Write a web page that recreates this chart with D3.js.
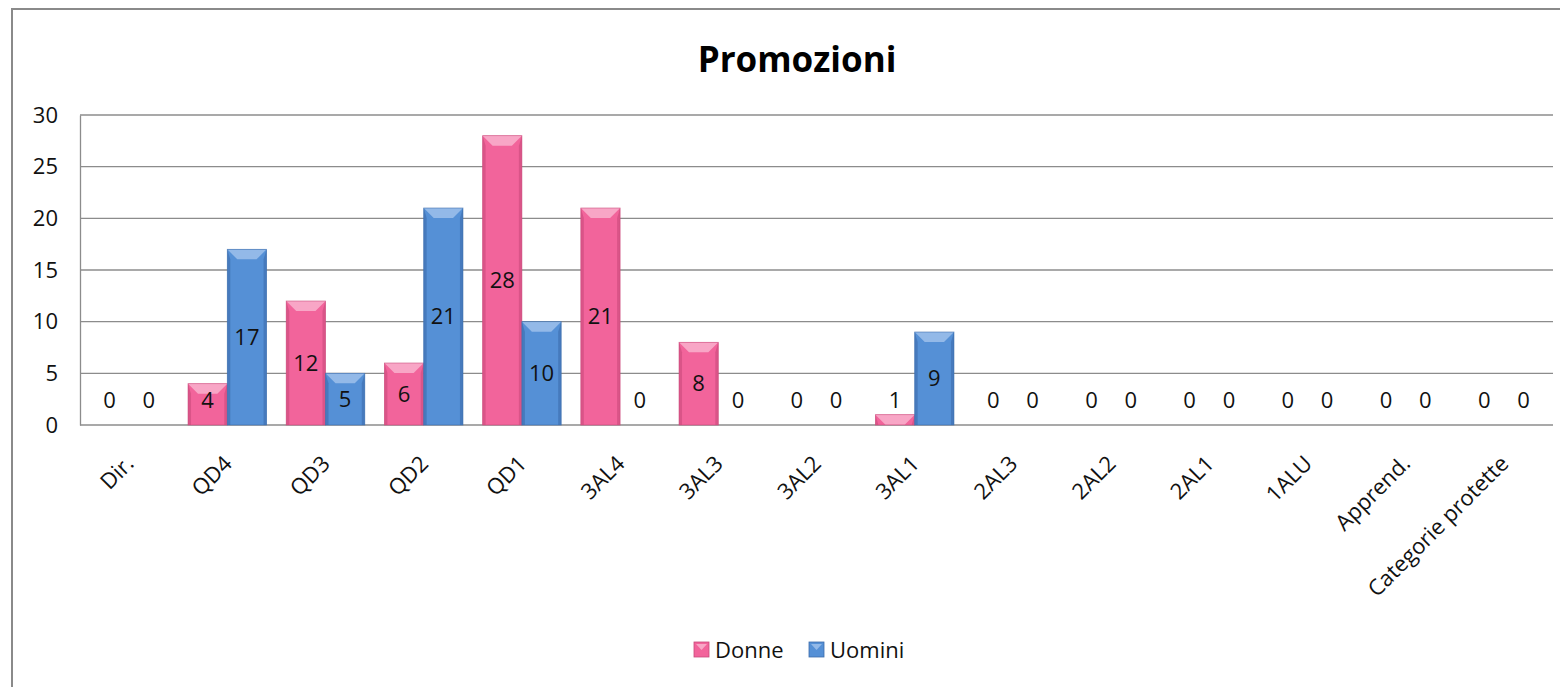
<!DOCTYPE html>
<html>
<head>
<meta charset="utf-8">
<script src="https://cdn.jsdelivr.net/npm/d3@7"></script>
<style>
  body { margin: 0; background: #fff; }
  svg { display: block; font-family: "Open Sans", sans-serif; }
  svg text { font-family: "Open Sans", sans-serif; }
</style>
</head>
<body>
<svg width="1560" height="687"></svg>
<script>
// data
var categories = ["Dir.", "QD4", "QD3", "QD2", "QD1", "3AL4", "3AL3", "3AL2", "3AL1",
    "2AL3", "2AL2", "2AL1", "1ALU", "Apprend.", "Categorie protette"];
var donne  = [0, 4, 12, 6, 28, 21, 8, 0, 1, 0, 0, 0, 0, 0, 0];
var uomini = [0, 17, 5, 21, 10, 0, 0, 0, 9, 0, 0, 0, 0, 0, 0];
var seriesNames = ["Donne", "Uomini"];
var yTicks = [0, 5, 10, 15, 20, 25, 30];

var colors = {
    Donne:  { main: "#f2649b", light: "#f8a6c6", dark: "#c94a7b" },
    Uomini: { main: "#5590d6", light: "#93b9e8", dark: "#3c6cab" }
};

var margin = { top: 115, right: 7, bottom: 262, left: 80 },
    width = 1560 - margin.left - margin.right,
    height = 687 - margin.top - margin.bottom;

var svg = d3.select("svg");

// outer chart frame
svg.append("rect")
    .attr("x", 12).attr("y", 9)
    .attr("width", 1600).attr("height", 800)
    .attr("fill", "none")
    .attr("stroke", "#8a8a8a")
    .attr("stroke-width", 2);

svg.append("text")
    .attr("x", 797)
    .attr("y", 72)
    .attr("text-anchor", "middle")
    .style("font-size", "35px")
    .style("font-weight", "bold")
    .text("Promozioni");

var g = svg.append("g")
    .attr("transform", "translate(" + margin.left + "," + margin.top + ")");

var y = d3.scaleLinear().domain([0, 30]).range([height, 0]);
var x = d3.scaleBand().domain(categories).range([0, width]).paddingInner(0.2).paddingOuter(0.1);
var xs = d3.scaleBand().domain(seriesNames).range([0, x.bandwidth()]);

// gridlines
g.append("g")
    .selectAll("line")
    .data(yTicks)
    .enter().append("line")
    .attr("x1", 0).attr("x2", width)
    .attr("y1", function(d) { return y(d); })
    .attr("y2", function(d) { return y(d); })
    .attr("stroke", "#8c8c8c")
    .attr("stroke-width", 1.3);

// y axis
var yAxis = g.append("g")
    .call(d3.axisLeft(y).tickValues(yTicks).tickSize(0).tickPadding(22));
yAxis.attr("font-family", null).attr("font-size", null);
yAxis.select(".domain").attr("stroke", "#8c8c8c").attr("stroke-width", 1.3);
yAxis.selectAll("text").style("font-size", "22px").attr("fill", "#111");

// x axis labels
var xAxis = g.append("g")
    .attr("transform", "translate(0," + height + ")")
    .call(d3.axisBottom(x).tickSize(0).tickPadding(0));
xAxis.attr("font-family", null).attr("font-size", null);
xAxis.select(".domain").remove();
xAxis.selectAll("text")
    .style("font-size", "22px")
    .attr("fill", "#111")
    .attr("dy", 0)
    .attr("y", 0)
    .attr("transform", "translate(6,40)rotate(-45)")
    .style("text-anchor", "end");

// bars
var rows = [];
categories.forEach(function(c, i) {
    rows.push({ cat: c, s: "Donne", v: donne[i] });
    rows.push({ cat: c, s: "Uomini", v: uomini[i] });
});

var bar = g.selectAll(".bar")
    .data(rows)
    .enter().append("g")
    .attr("class", "bar");

bar.filter(function(d) { return d.v > 0; }).each(function(d) {
    var el = d3.select(this);
    var bx = x(d.cat) + xs(d.s), bw = xs.bandwidth();
    var by = y(d.v), bh = y(0) - y(d.v);
    var bev = Math.min(10, bh);
    var side = 3;
    var c = colors[d.s];
    el.append("rect")
        .attr("x", bx).attr("y", by)
        .attr("width", bw).attr("height", bh)
        .attr("fill", c.main);
    el.append("polygon")
        .attr("points", [[bx, by], [bx + side, by + bev], [bx + side, y(0)], [bx, y(0)]].join(" "))
        .attr("fill", c.dark).attr("opacity", 0.6);
    el.append("polygon")
        .attr("points", [[bx + bw, by], [bx + bw - side, by + bev], [bx + bw - side, y(0)], [bx + bw, y(0)]].join(" "))
        .attr("fill", c.dark).attr("opacity", 0.6);
    el.append("polygon")
        .attr("points", [[bx, by], [bx + bw, by], [bx + bw - bev, by + bev], [bx + bev, by + bev]].join(" "))
        .attr("fill", c.light);
    el.append("rect")
        .attr("x", bx).attr("y", by)
        .attr("width", bw).attr("height", bh)
        .attr("fill", "none")
        .attr("stroke", c.dark).attr("stroke-width", 0.8).attr("opacity", 0.7);
});

// value labels
bar.append("text")
    .attr("x", function(d) { return x(d.cat) + xs(d.s) + xs.bandwidth() / 2; })
    .attr("y", function(d) { return Math.min((y(d.v) + y(0)) / 2, y(0) - 25); })
    .attr("dy", "0.35em")
    .attr("text-anchor", "middle")
    .style("font-size", "22px")
    .attr("fill", "#111")
    .text(function(d) { return d.v; });

// legend
var legend = svg.append("g").attr("transform", "translate(694,642)");
var lx = [0, 115];
seriesNames.forEach(function(s, i) {
    var lg = legend.append("g").attr("transform", "translate(" + lx[i] + ",0)");
    lg.append("rect").attr("width", 15).attr("height", 15)
        .attr("fill", colors[s].main).attr("stroke", colors[s].dark).attr("stroke-width", 0.8);
    lg.append("polygon").attr("points", "2,2 13,2 7.5,8").attr("fill", colors[s].light);
    lg.append("text").attr("x", 21).attr("y", 8).attr("dy", "0.35em")
        .style("font-size", "22px").attr("fill", "#111").text(s);
});
</script>
</body>
</html>
